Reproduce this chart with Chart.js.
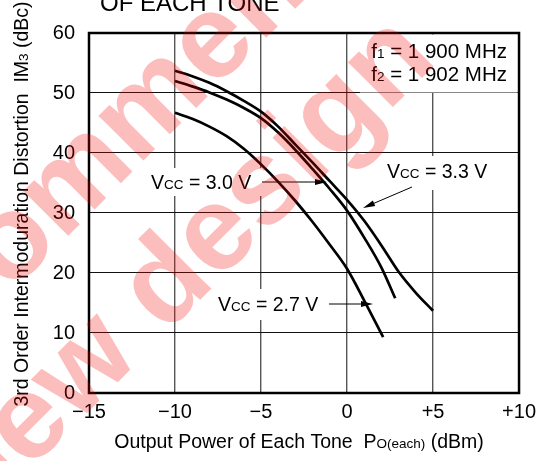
<!DOCTYPE html>
<html>
<head>
<meta charset="utf-8">
<script src="https://cdn.jsdelivr.net/npm/chart.js@4/dist/chart.umd.min.js"></script>
<style>
  html, body { margin: 0; padding: 0; background: #fff; }
  #wrap { width: 543px; height: 461px; }
</style>
</head>
<body>
<div id="wrap"><canvas id="im3-chart"></canvas></div>
<script>
// Output power of each tone (dBm) vs. IM3 (dBc), one curve per supply voltage
const vcc33Power = [-10, -9, -8, -7, -6, -5, -4, -3, -2, -1, 0, 1, 2, 3, 4, 5];
const vcc33Im3   = [53.7, 52.8, 51.7, 50.3, 48.7, 46.9, 44.4, 41.4, 38.4, 35.3, 32.2, 28.7, 24.6, 20.2, 16.7, 13.7];

const vcc30Power = [-10, -9, -8, -7, -6, -5, -4, -3, -2, -1, 0, 1, 2, 2.8];
const vcc30Im3   = [52.0, 51.1, 50.1, 48.9, 47.5, 45.8, 43.4, 40.5, 37.3, 34.0, 30.4, 25.9, 20.9, 15.8];

const vcc27Power = [-10, -9, -8, -7, -6, -5, -4, -3, -2, -1, 0, 1, 2.1];
const vcc27Im3   = [46.7, 45.7, 44.4, 42.8, 40.7, 38.1, 35.2, 32.0, 28.5, 24.7, 20.7, 15.4, 9.3];

const xTicks = [-15, -10, -5, 0, 5, 10];
const yTicks = [0, 10, 20, 30, 40, 50, 60];

const FONT = '"Liberation Sans", Arial, Helvetica, sans-serif';

function toPoints(xs, ys) {
  return xs.map((x, i) => ({ x: x, y: ys[i] }));
}

// draws a run of text pieces (normal / small) one after another
function drawRuns(ctx, runs, x, y, align) {
  let total = 0;
  runs.forEach(r => {
    ctx.font = r.size + 'px ' + FONT;
    r.w = ctx.measureText(r.text).width;
    total += r.w;
  });
  let cx = x;
  if (align === 'center') cx = x - total / 2;
  if (align === 'right') cx = x - total;
  ctx.textAlign = 'left';
  runs.forEach(r => {
    ctx.font = r.size + 'px ' + FONT;
    ctx.fillText(r.text, cx, y + (r.dy || 0));
    cx += r.w;
  });
  return total;
}

function vccLabel(volts) {
  return [
    { text: 'V', size: 19.5 },
    { text: 'CC', size: 13.5 },
    { text: ' = ' + volts + ' V', size: 19.5 }
  ];
}

function arrow(ctx, x1, y1, x2, y2) {
  const a = Math.atan2(y2 - y1, x2 - x1);
  const len = 12, half = 3;
  ctx.strokeStyle = '#000';
  ctx.lineWidth = 1;
  ctx.beginPath();
  ctx.moveTo(x1, y1);
  ctx.lineTo(x2 - Math.cos(a) * len, y2 - Math.sin(a) * len);
  ctx.stroke();
  ctx.fillStyle = '#000';
  ctx.beginPath();
  ctx.moveTo(x2, y2);
  ctx.lineTo(x2 - Math.cos(a) * len - Math.sin(a) * half, y2 - Math.sin(a) * len + Math.cos(a) * half);
  ctx.lineTo(x2 - Math.cos(a) * len + Math.sin(a) * half, y2 - Math.sin(a) * len - Math.cos(a) * half);
  ctx.closePath();
  ctx.fill();
}

const annotations = {
  id: 'annotations',
  afterDatasetsDraw(chart) {
    const ctx = chart.ctx;
    const area = chart.chartArea;
    ctx.save();

    // white boxes behind the labels hide the grid
    ctx.fillStyle = '#fff';
    ctx.fillRect(360, area.top + 1.5, area.right - 361.5, 58);
    ctx.fillRect(147, 168, 115, 28);
    ctx.fillRect(383, 156, 110, 34);
    ctx.fillRect(214, 289, 112, 31);

    ctx.fillStyle = '#000';
    ctx.textBaseline = 'alphabetic';

    drawRuns(ctx, [{ text: 'f', size: 20.5 }, { text: '1', size: 13.5 }, { text: ' = 1 900 MHz', size: 20.5 }], 507, 58, 'right');
    drawRuns(ctx, [{ text: 'f', size: 20.5 }, { text: '2', size: 13.5 }, { text: ' = 1 902 MHz', size: 20.5 }], 507, 81, 'right');

    drawRuns(ctx, vccLabel('3.0'), 151, 189, 'left');
    drawRuns(ctx, vccLabel('3.3'), 387, 178, 'left');
    drawRuns(ctx, vccLabel('2.7'), 218, 311, 'left');

    arrow(ctx, 262, 182, 327, 182);
    arrow(ctx, 412, 187, 363, 208);
    arrow(ctx, 329, 304, 373, 304);

    // heavy frame round the plot
    ctx.strokeStyle = '#000';
    ctx.lineWidth = 2.5;
    ctx.strokeRect(area.left, area.top, area.right - area.left, area.bottom - area.top);

    // axis titles
    ctx.fillStyle = '#000';
    drawRuns(ctx, [
      { text: 'Output Power of Each Tone  P', size: 19.5 },
      { text: 'O(each)', size: 13.5 },
      { text: ' (dBm)', size: 19.5 }
    ], 299, 448, 'center');

    ctx.save();
    ctx.translate(28, 204);
    ctx.rotate(-Math.PI / 2);
    drawRuns(ctx, [
      { text: '3rd Order Intermoduration Distortion  IM', size: 19.5 },
      { text: '3', size: 13.5 },
      { text: ' (dBc)', size: 19.5 }
    ], 0, 0, 'center');
    ctx.restore();

    // tail of the heading, running off the top edge
    ctx.font = '24px ' + FONT;
    ctx.fillText('OF EACH TONE', 100, 11);

    // overprinted stamp
    ctx.fillStyle = 'rgba(242, 0, 0, 0.26)';
    ctx.font = 'bold 120px ' + FONT;
    ctx.save();
    ctx.translate(-282, 586);
    ctx.rotate(-Math.PI / 4);
    ctx.fillText('Not recommended', 0, 0);
    ctx.restore();
    ctx.save();
    ctx.translate(-160, 660);
    ctx.rotate(-Math.PI / 4);
    ctx.fillText('for new design', 0, 0);
    ctx.restore();

    ctx.restore();
  }
};

const curve = (label, xs, ys) => ({
  label: label,
  data: toPoints(xs, ys),
  borderColor: '#000',
  borderWidth: 2.7,
  pointRadius: 0,
  fill: false,
  cubicInterpolationMode: 'monotone'
});

const ctx = document.getElementById('im3-chart').getContext('2d');
const chart = new Chart(ctx, {
  type: 'line',
  data: {
    datasets: [
      curve('VCC = 3.3 V', vcc33Power, vcc33Im3),
      curve('VCC = 3.0 V', vcc30Power, vcc30Im3),
      curve('VCC = 2.7 V', vcc27Power, vcc27Im3)
    ]
  },
  options: {
    responsive: true,
    maintainAspectRatio: false,
    animation: false,
    layout: { padding: { left: 0, right: 17, top: 33, bottom: 0 } },
    plugins: {
      legend: { display: false },
      tooltip: { enabled: false }
    },
    scales: {
      x: {
        type: 'linear',
        min: -15,
        max: 10,
        afterBuildTicks: s => { s.ticks = xTicks.map(v => ({ value: v })); },
        afterFit: s => { s.height = 68; },
        ticks: {
          color: '#000',
          padding: 7,
          maxRotation: 0,
          font: { family: FONT, size: 20 },
          callback: v => v < 0 ? '\u2212' + Math.abs(v) : (v > 0 ? '+' + v : '0')
        },
        grid: { color: '#555', lineWidth: 1.4, drawTicks: false },
        border: { display: false }
      },
      y: {
        type: 'linear',
        min: 0,
        max: 60,
        afterBuildTicks: s => { s.ticks = yTicks.map(v => ({ value: v })); },
        afterFit: s => { s.width = 89; },
        ticks: {
          color: '#000',
          padding: 14,
          font: { family: FONT, size: 20 }
        },
        grid: { color: '#111', lineWidth: 1.1, drawTicks: false },
        border: { display: false }
      }
    }
  },
  plugins: [annotations]
});
</script>
</body>
</html>
